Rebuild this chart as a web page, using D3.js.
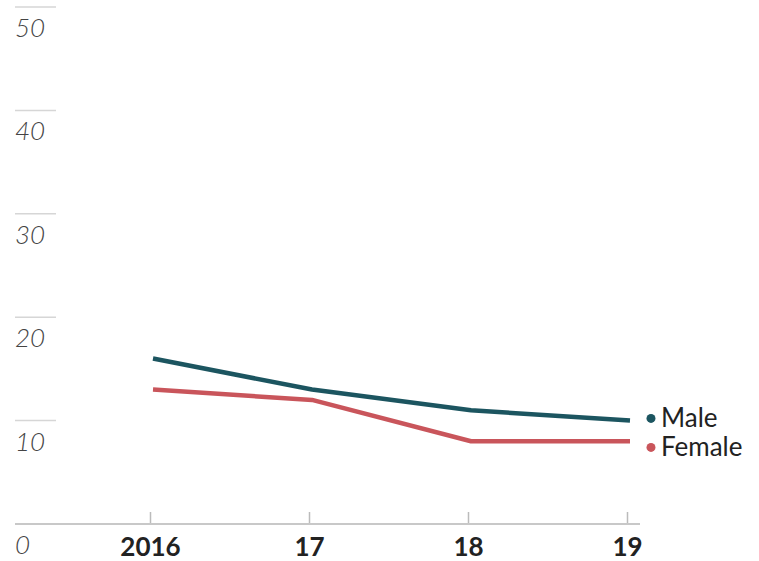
<!DOCTYPE html>
<html><head><meta charset="utf-8">
<script src="https://cdn.jsdelivr.net/npm/d3@7"></script>
<style>body{margin:0;background:#fff;}svg{display:block;}</style>
</head><body>
<svg id="chart" width="759" height="561"></svg>
<script>
const years = [2016, 2017, 2018, 2019];
const xTickLabels = ["2016", "17", "18", "19"];
const maleValues = [16, 13, 11, 10];
const femaleValues = [13, 12, 8, 8];
const yTicks = [0, 10, 20, 30, 40, 50];
const seriesNames = ["Male", "Female"];
const seriesColors = ["#1c5560", "#c9555b"];

const svg = d3.select("#chart");
const x = d3.scaleLinear().domain([2016, 2019]).range([150, 627]);
const y = d3.scaleLinear().domain([0, 50]).range([524, 7]);

// y gridline stubs + labels
const yg = svg.append("g");
yg.selectAll("line").data(yTicks.filter(d => d > 0)).join("line")
  .attr("x1", 15).attr("x2", 56)
  .attr("y1", d => y(d)).attr("y2", d => y(d))
  .attr("stroke", "#d6d6d6").attr("stroke-width", 1.5);
yg.selectAll("text").data(yTicks).join("text")
  .attr("x", 15).attr("y", d => y(d) + 30)
  .attr("font-family", "Lato, 'Open Sans', sans-serif")
  .attr("font-style", "italic").attr("font-weight", 300)
  .attr("font-size", 26).attr("fill", "#444")
  .text(d => d);

// x axis
const xAxis = d3.axisBottom(x).tickValues(years)
  .tickFormat((d, i) => xTickLabels[i]).tickSize(0).tickPadding(0);
const gx = svg.append("g").attr("transform", `translate(0,${y(0)})`).call(xAxis);
gx.select(".domain").remove();
gx.append("line").attr("x1", 15).attr("x2", 640).attr("y1", 0).attr("y2", 0)
  .attr("stroke", "#c8c8c8").attr("stroke-width", 2);
gx.selectAll(".tick").append("line").attr("y1", 0).attr("y2", -12)
  .attr("stroke", "#bbb").attr("stroke-width", 1.5);
gx.selectAll(".tick text")
  .attr("y", 32).attr("dy", 0)
  .attr("font-family", "Lato, 'Open Sans', sans-serif")
  .attr("font-weight", 700).attr("font-size", 26).attr("fill", "#222");

// lines
const series = [maleValues, femaleValues];
const line = d3.line().x((d, i) => x(years[i]) + 3).y(d => y(d));
svg.selectAll("path.series").data(series).join("path")
  .attr("class", "series")
  .attr("d", line)
  .attr("fill", "none")
  .attr("stroke", (d, i) => seriesColors[i])
  .attr("stroke-width", 4.5)
  .attr("stroke-linejoin", "round");

// labels with collision avoidance
const ends = series.map(s => y(s[s.length - 1]));
const minGap = 29;
let lab = ends.slice();
if (lab[1] - lab[0] < minGap) {
  const mid = (lab[0] + lab[1]) / 2;
  lab = [mid - minGap / 2, mid + minGap / 2];
}
const lg = svg.append("g");
seriesNames.forEach((name, i) => {
  lg.append("circle").attr("cx", 651).attr("cy", lab[i] + 2).attr("r", 4.5)
    .attr("fill", seriesColors[i]);
  lg.append("text").attr("x", 661).attr("y", lab[i] + 11)
    .attr("font-family", "Lato, 'Open Sans', sans-serif")
    .attr("font-size", 26).attr("fill", "#222").text(name);
});
</script>
</body></html>
